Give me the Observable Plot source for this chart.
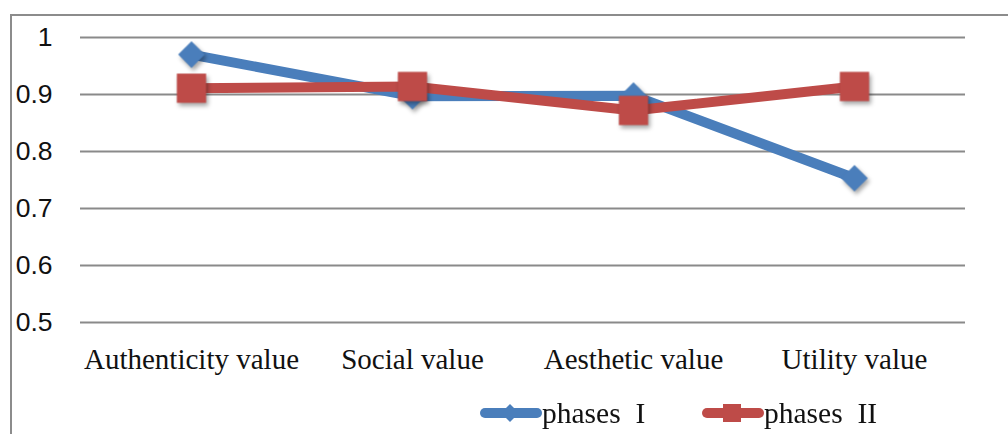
<!DOCTYPE html>
<html>
<head>
<meta charset="utf-8">
<script src="https://cdn.jsdelivr.net/npm/d3@7"></script>
<script src="https://cdn.jsdelivr.net/npm/@observablehq/plot@0.6"></script>
<style>
  html, body { margin: 0; padding: 0; background: #fff; }
  #wrap { position: relative; width: 1008px; height: 434px; overflow: hidden; }
  #frame { position: absolute; left: 10px; top: 14px; width: 1000px; height: 430px;
           border-left: 2px solid #8c8c8c; border-top: 2px solid #8c8c8c; pointer-events: none; }
  #chart svg { display: block; }
  #chart g[aria-label="dot"] { filter: drop-shadow(2px 3px 2px rgba(0,0,0,0.35)); }
  #legend { position: absolute; top: 396px; left: 0; width: 1008px; height: 38px; }
  .item { position: absolute; top: 0; display: flex; align-items: center; }
  .item span { font-family: "Liberation Serif", serif; font-size: 29.5px; color: #111; white-space: pre; line-height: 34px; }
</style>
</head>
<body>
<div id="wrap">
  <div id="chart"></div>
  <div id="frame"></div>
  <div id="legend"></div>
</div>
<script>
const categories = ["Authenticity value", "Social value", "Aesthetic value", "Utility value"];
const seriesNames = ["phases  I", "phases  II"];
const phase1 = [0.970, 0.897, 0.898, 0.753];
const phase2 = [0.911, 0.914, 0.872, 0.914];
const yTicks = [0.5, 0.6, 0.7, 0.8, 0.9, 1];
const yTickLabels = ["0.5", "0.6", "0.7", "0.8", "0.9", "1"];
const colors = ["#4a7ebb", "#be4b48"];

const d1 = categories.map((c, i) => ({cat: c, v: phase1[i]}));
const d2 = categories.map((c, i) => ({cat: c, v: phase2[i]}));

const chart = Plot.plot({
  width: 1008,
  height: 434,
  marginLeft: 80,
  marginRight: 43,
  marginTop: 37,
  marginBottom: 112,
  x: {type: "point", domain: categories, padding: 0.5},
  y: {domain: [0.5, 1]},
  marks: [
    Plot.ruleY(yTicks, {stroke: "#8a8a8a", strokeWidth: 2, strokeOpacity: 1}),
    Plot.axisY({ticks: yTicks, tickFormat: (d) => yTickLabels[yTicks.indexOf(d)], tickSize: 0, tickPadding: 28,
      fontSize: 26.5, fontFamily: "Liberation Sans, sans-serif", fill: "#111", label: null}),
    Plot.axisX({tickSize: 0, tickPadding: 26, fontSize: 29, fontFamily: "Liberation Serif, serif", fill: "#111", label: null}),
    Plot.line(d1, {x: "cat", y: "v", stroke: colors[0], strokeWidth: 10, strokeLinejoin: "round"}),
    Plot.dot(d1, {x: "cat", y: "v", symbol: "diamond2", r: 12, fill: colors[0], stroke: "none"}),
    Plot.line(d2, {x: "cat", y: "v", stroke: colors[1], strokeWidth: 10, strokeLinejoin: "round"}),
    Plot.dot(d2, {x: "cat", y: "v", symbol: "square", r: 16.5, fill: colors[1], stroke: "none"})
  ]
});
document.getElementById("chart").appendChild(chart);

// legend
const legend = document.getElementById("legend");
const lefts = [480, 702];
seriesNames.forEach((name, i) => {
  const item = document.createElement("div");
  item.className = "item";
  item.style.left = lefts[i] + "px";
  const marker = i === 0
    ? `<path d="M30,8 L39,17 L30,26 L21,17 Z" fill="${colors[0]}"/>`
    : `<rect x="21" y="8" width="18" height="18" fill="${colors[1]}"/>`;
  item.innerHTML = `<svg width="62" height="34"><line x1="5" y1="17" x2="57" y2="17" stroke="${colors[i]}" stroke-width="10" stroke-linecap="round"/>${marker}</svg><span>${name}</span>`;
  legend.appendChild(item);
});
</script>
</body>
</html>
